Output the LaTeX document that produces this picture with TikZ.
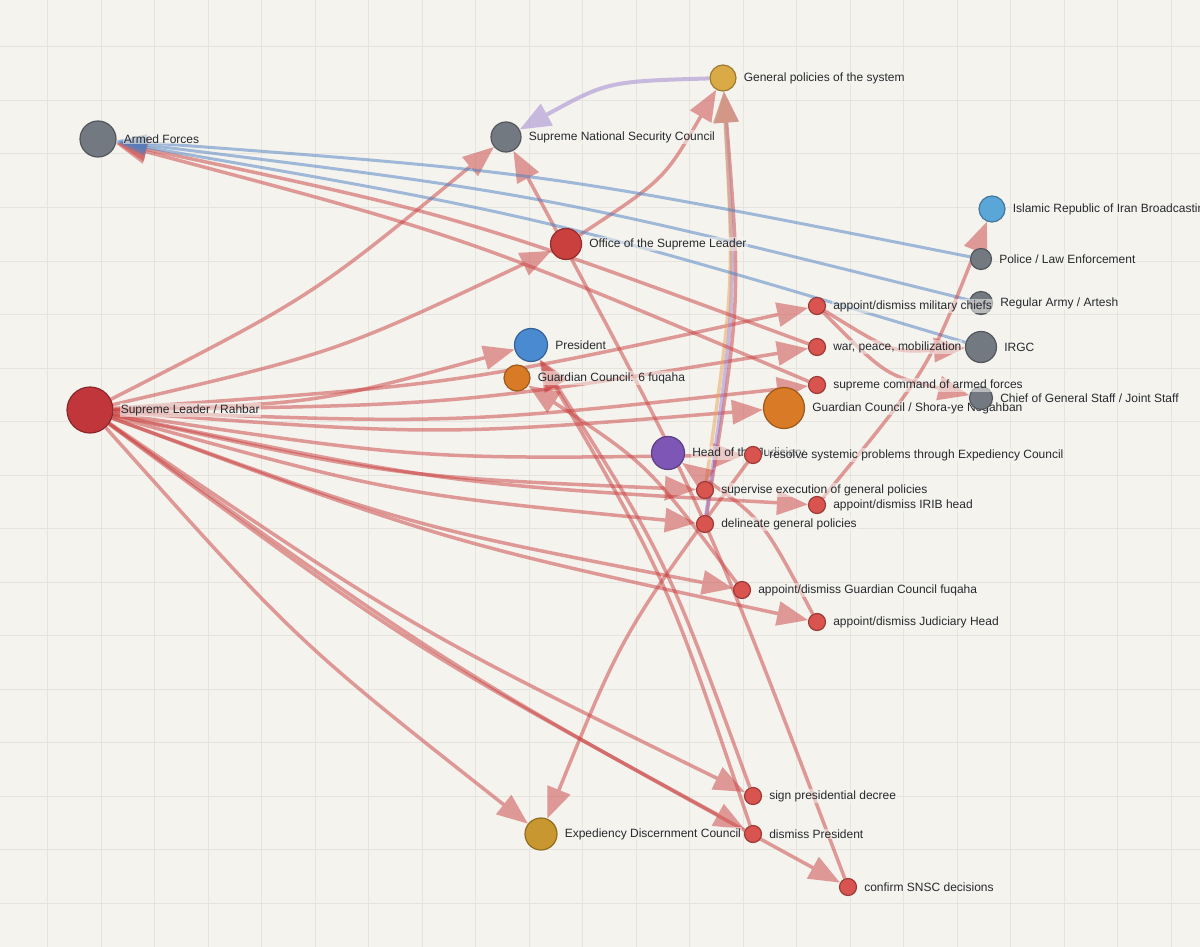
\documentclass[tikz,border=0pt]{standalone}
\usepackage{fontspec}
\setmainfont{Liberation Sans}
\usetikzlibrary{arrows.meta,calc}
\definecolor{bg}{HTML}{F5F3EE}
\definecolor{gridc}{HTML}{E6E4DF}
\definecolor{textc}{HTML}{262A2E}
\definecolor{edgered}{HTML}{C9403F}
\definecolor{edgeblue}{HTML}{4A7FC1}
\definecolor{edgepurple}{HTML}{9B7FD0}
\definecolor{edgeorange}{HTML}{E9A35A}
\definecolor{nodegray}{HTML}{737980}
\definecolor{goldc}{HTML}{D9AA45}
\definecolor{iribc}{HTML}{5AA6D8}
\definecolor{officec}{HTML}{C9403F}
\definecolor{presc}{HTML}{4A8AD1}
\definecolor{orangec}{HTML}{D97B26}
\definecolor{powc}{HTML}{D9534F}
\definecolor{slc}{HTML}{C1363A}
\definecolor{purplec}{HTML}{7E57B6}
\definecolor{edcc}{HTML}{C9972F}
\pgfdeclarelayer{gridlayer}
\pgfdeclarelayer{edgelayer}
\pgfsetlayers{gridlayer,edgelayer,main}
\tikzset{
  nd/.style={circle, inner sep=0pt, line width=1.2pt},
  lbl/.style={font=\fontsize{12}{14}\selectfont, text=textc, inner sep=1pt, fill=bg, fill opacity=.55, text opacity=1},
  er/.style={draw=edgered, line width=3.5pt, -{Triangle[length=31pt,width=24pt]}},
  eb/.style={draw=edgeblue, line width=3pt, -{Triangle[length=30pt,width=16pt]}},
  ep/.style={draw=edgepurple, line width=4pt, -{Triangle[length=31pt,width=24pt]}},
  eo/.style={draw=edgeorange, line width=3.5pt, -{Triangle[length=31pt,width=24pt]}},
}
\newcommand{\cedge}[4][27pt]{\begin{scope}[transparency group, opacity=.5]\draw[#2] (#3) .. controls ($(#3)!0.5!(#4)!#1!-90:(#4)$) .. (#4);\end{scope}}
\newcommand{\gnode}[6]{\node[nd, minimum size=#4, fill=#5, draw=#5!72!black, label={[lbl]right:#6}] (#1) at (#2,#3) {};}
\begin{document}
\begin{tikzpicture}[x=1pt,y=-1pt,label distance=6pt]
\useasboundingbox (0,0) rectangle (1200,947);
\begin{pgfonlayer}{gridlayer}
\fill[bg] (0,0) rectangle (1200,947);
\foreach \i in {0,...,22} {\draw[gridc, line width=1pt] ({47.5+53.5*(\i-1)},0) -- ({47.5+53.5*(\i-1)},947);}
\foreach \j in {0,...,18} {\draw[gridc, line width=1pt] (0,{47+53.5*(\j-1)}) -- (1200,{47+53.5*(\j-1)});}
\end{pgfonlayer}
% nodes
\gnode{AF}{98}{139}{36pt}{nodegray}{Armed Forces}
\gnode{SNSC}{506}{137}{30pt}{nodegray}{Supreme National Security Council}
\gnode{GP}{723}{78}{26pt}{goldc}{General policies of the system}
\gnode{IRIB}{992}{209}{26pt}{iribc}{Islamic Republic of Iran Broadcasting}
\gnode{POL}{981}{259}{21pt}{nodegray}{Police / Law Enforcement}
\gnode{ARMY}{981}{303}{23pt}{nodegray}{Regular Army / Artesh}
\gnode{IRGC}{981}{347}{31pt}{nodegray}{IRGC}
\gnode{OFF}{566}{244}{31pt}{officec}{Office of the Supreme Leader}
\gnode{PRES}{531}{345}{33pt}{presc}{President}
\gnode{GCS}{517}{378}{26pt}{orangec}{Guardian Council: 6 fuqaha}
\gnode{GC}{784}{408}{41pt}{orangec}{Guardian Council / Shora-ye Negahban}
\gnode{CGS}{981}{398}{23pt}{nodegray}{Chief of General Staff / Joint Staff}
\gnode{MIL}{817}{306}{17pt}{powc}{appoint/dismiss military chiefs}
\gnode{WAR}{817}{347}{17pt}{powc}{war, peace, mobilization}
\gnode{CMD}{817}{385}{17pt}{powc}{supreme command of armed forces}
\gnode{SL}{90}{410}{46pt}{slc}{Supreme Leader / Rahbar}
\gnode{HJ}{668}{453}{33pt}{purplec}{Head of the Judiciary}
\gnode{RES}{753}{455}{17pt}{powc}{resolve systemic problems through Expediency Council}
\gnode{SUP}{705}{490}{17pt}{powc}{supervise execution of general policies}
\gnode{IRIBH}{817}{505}{17pt}{powc}{appoint/dismiss IRIB head}
\gnode{DEL}{705}{524}{17pt}{powc}{delineate general policies}
\gnode{AGC}{742}{590}{17pt}{powc}{appoint/dismiss Guardian Council fuqaha}
\gnode{AJH}{817}{622}{17pt}{powc}{appoint/dismiss Judiciary Head}
\gnode{SIGN}{753}{796}{17pt}{powc}{sign presidential decree}
\gnode{EDC}{541}{834}{32pt}{edcc}{Expediency Discernment Council}
\gnode{DISP}{753}{834}{17pt}{powc}{dismiss President}
\gnode{CONF}{848}{887}{17pt}{powc}{confirm SNSC decisions}
% edges
\begin{pgfonlayer}{edgelayer}
\cedge{er}{SL}{SNSC}
\cedge{er}{SL}{OFF}
\cedge{er}{SL}{PRES}
\cedge{er}{SL}{MIL}
\cedge{er}{SL}{WAR}
\cedge{er}{SL}{CMD}
\cedge{er}{SL}{GC}
\cedge{er}{SL}{RES}
\cedge{er}{SL}{SUP}
\cedge{er}{SL}{IRIBH}
\cedge{er}{SL}{DEL}
\cedge{er}{SL}{AGC}
\cedge{er}{SL}{AJH}
\cedge{er}{SL}{SIGN}
\cedge{er}{SL}{DISP}
\cedge{er}{SL}{CONF}
\cedge{er}{SL}{EDC}
\cedge{er}{CONF}{SNSC}
\cedge{er}{OFF}{GP}
\cedge{er}{DEL}{GP}
\cedge[22pt]{ep}{DEL}{GP}
\cedge[20pt]{eo}{SUP}{GP}
\cedge{ep}{GP}{SNSC}
\cedge{er}{CMD}{AF}
\cedge{er}{WAR}{AF}
\cedge{eb}{POL}{AF}
\cedge{eb}{ARMY}{AF}
\cedge{eb}{IRGC}{AF}
\cedge{er}{MIL}{IRGC}
\cedge{er}{MIL}{CGS}
\cedge{er}{IRIBH}{IRIB}
\cedge{er}{AGC}{GCS}
\cedge{er}{AJH}{HJ}
\cedge{er}{SIGN}{PRES}
\cedge{er}{DISP}{PRES}
\cedge{er}{RES}{EDC}
\end{pgfonlayer}
\end{tikzpicture}
\end{document}
